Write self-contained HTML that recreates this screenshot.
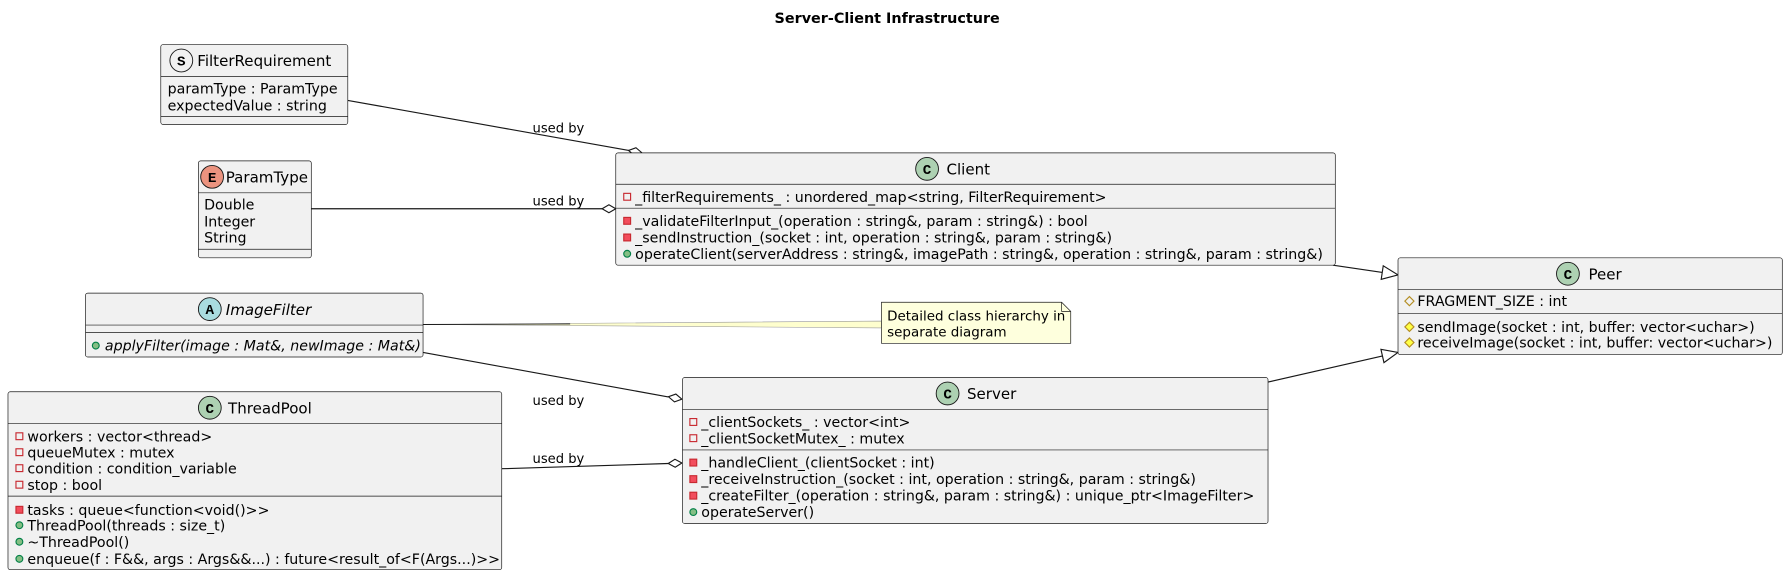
<!DOCTYPE html>
<html><head><meta charset="utf-8"><style>
html,body{margin:0;padding:0;background:#fff;}
svg{display:block;}
text{font-family:"DejaVu Sans","Liberation Sans",sans-serif;font-size:12.45px;fill:#000;}
.t{font-size:13.2px;}
.b{fill:#F1F1F1;stroke:#181818;stroke-width:0.6;}
.d{stroke:#181818;stroke-width:0.6;}
.l{stroke:#181818;stroke-width:1;fill:none;}
.lbl{font-size:11.5px;}
.ic{font-weight:bold;font-size:12.5px;font-family:'Liberation Mono',monospace;}
</style></head><body>
<svg width="1788" height="576" viewBox="0 0 1568 505" xmlns="http://www.w3.org/2000/svg">
<defs>
<g id="pa"><rect x="-3" y="-3" width="6" height="6" fill="none" stroke="#C82930" stroke-width="1"/></g>
<g id="pm"><rect x="-3" y="-3" width="6" height="6" fill="#F24D5C" stroke="#C82930" stroke-width="1"/></g>
<g id="pu"><circle r="3" fill="#84BE84" stroke="#038048" stroke-width="1"/></g>
<g id="ra"><polygon points="0,-4 4,0 0,4 -4,0" fill="none" stroke="#B38D22" stroke-width="1"/></g>
<g id="rm"><polygon points="0,-4 4,0 0,4 -4,0" fill="#FFFF44" stroke="#B38D22" stroke-width="1"/></g>
</defs>
<text x="778" y="20" text-anchor="middle" style="font-weight:bold;font-size:12.6px">Server-Client Infrastructure</text>

<!-- edges -->
<line class="l" x1="305" y1="88" x2="552" y2="132"/>
<g transform="translate(563,134) rotate(10.1)"><polygon points="0,0 -6,-3.5 -12,0 -6,3.5" fill="#fff" stroke="#181818" stroke-width="1"/></g>
<text class="lbl" x="467" y="116">used by</text>
<line class="l" x1="273" y1="183" x2="528" y2="183"/>
<g transform="translate(540,183)"><polygon points="0,0 -6,-3.5 -12,0 -6,3.5" fill="#fff" stroke="#181818" stroke-width="1"/></g>
<text class="lbl" x="467" y="180">used by</text>
<line class="l" x1="371" y1="309" x2="586" y2="348"/>
<g transform="translate(598,350) rotate(10.2)"><polygon points="0,0 -6,-3.5 -12,0 -6,3.5" fill="#fff" stroke="#181818" stroke-width="1"/></g>
<text class="lbl" x="467" y="355">used by</text>
<line class="l" x1="440" y1="411" x2="586" y2="406.4"/>
<g transform="translate(598,406) rotate(-1.8)"><polygon points="0,0 -6,-3.5 -12,0 -6,3.5" fill="#fff" stroke="#181818" stroke-width="1"/></g>
<text class="lbl" x="467" y="406">used by</text>
<line class="l" x1="1169" y1="232.5" x2="1213" y2="239"/>
<g transform="translate(1226,241) rotate(8.5)"><polygon points="0,0 -14,-6 -14,6" fill="#fff" stroke="#181818" stroke-width="1"/></g>
<line class="l" x1="1112" y1="335" x2="1213" y2="312"/>
<g transform="translate(1226,309) rotate(-12.8)"><polygon points="0,0 -14,-6 -14,6" fill="#fff" stroke="#181818" stroke-width="1"/></g>
<polygon points="371,284.5 773,281.5 773,287.5" fill="#FEFECE" stroke="#999" stroke-width="0.5"/>
<line x1="371" y1="284.5" x2="500" y2="284" stroke="#181818" stroke-width="0.8"/>

<!-- FilterRequirement -->
<rect class="b" x="141" y="39" width="164" height="70" rx="2"/>
<line class="d" x1="141" y1="67" x2="305" y2="67"/><line class="d" x1="141" y1="102" x2="305" y2="102"/>
<circle cx="159" cy="53" r="10" fill="#F1F1F1" stroke="#181818" stroke-width="0.8"/>
<text class="ic" x="159" y="57.5" text-anchor="middle">S</text>
<text class="t" x="173" y="58">FilterRequirement</text>
<text x="147" y="82">paramType : ParamType</text>
<text x="147" y="97">expectedValue : string</text>

<!-- ParamType -->
<rect class="b" x="174" y="141" width="99" height="85" rx="2"/>
<line class="d" x1="174" y1="169" x2="273" y2="169"/><line class="d" x1="174" y1="218.5" x2="273" y2="218.5"/>
<circle cx="186" cy="155" r="10" fill="#EB937F" stroke="#181818" stroke-width="0.8"/>
<text class="ic" x="186" y="159.5" text-anchor="middle">E</text>
<text class="t" x="198" y="160">ParamType</text>
<text x="179" y="183.5">Double</text>
<text x="179" y="198.5">Integer</text>
<text x="179" y="212.5">String</text>

<!-- ImageFilter -->
<rect class="b" x="75" y="257" width="296" height="56" rx="2"/>
<line class="d" x1="75" y1="285" x2="371" y2="285"/><line class="d" x1="75" y1="291.5" x2="371" y2="291.5"/>
<circle cx="184" cy="271" r="10" fill="#A9DCDF" stroke="#181818" stroke-width="0.8"/>
<text class="ic" x="184" y="275.5" text-anchor="middle">A</text>
<text class="t" x="198" y="276" font-style="italic">ImageFilter</text>
<use href="#pu" x="84" y="303"/>
<text x="92" y="307.5" font-style="italic">applyFilter(image : Mat&amp;, newImage : Mat&amp;)</text>

<!-- ThreadPool -->
<rect class="b" x="7" y="343.5" width="433" height="156" rx="2"/>
<line class="d" x1="7" y1="371.5" x2="440" y2="371.5"/><line class="d" x1="7" y1="435" x2="440" y2="435"/>
<circle cx="184" cy="357.5" r="10" fill="#ADD1B2" stroke="#181818" stroke-width="0.8"/>
<text class="ic" x="184" y="362" text-anchor="middle">C</text>
<text class="t" x="200" y="362.5">ThreadPool</text>
<use href="#pa" x="17" y="382.5"/><text x="24" y="387">workers : vector&lt;thread&gt;</text>
<use href="#pa" x="17" y="396.5"/><text x="24" y="401">queueMutex : mutex</text>
<use href="#pa" x="17" y="410.5"/><text x="24" y="415">condition : condition_variable</text>
<use href="#pa" x="17" y="425"/><text x="24" y="429.5">stop : bool</text>
<use href="#pm" x="17" y="447"/><text x="24" y="451.5">tasks : queue&lt;function&lt;void()&gt;&gt;</text>
<use href="#pu" x="17" y="460.5"/><text x="24" y="465">ThreadPool(threads : size_t)</text>
<use href="#pu" x="17" y="475"/><text x="24" y="479.5">~ThreadPool()</text>
<use href="#pu" x="17" y="490"/><text x="24" y="494.5">enqueue(f : F&amp;&amp;, args : Args&amp;&amp;...) : future&lt;result_of&lt;F(Args...)&gt;&gt;</text>

<!-- Client -->
<rect class="b" x="540" y="134" width="631" height="98.5" rx="2"/>
<line class="d" x1="540" y1="161.5" x2="1171" y2="161.5"/><line class="d" x1="540" y1="182.5" x2="1171" y2="182.5"/>
<circle cx="813" cy="148" r="10" fill="#ADD1B2" stroke="#181818" stroke-width="0.8"/>
<text class="ic" x="813" y="152.5" text-anchor="middle">C</text>
<text class="t" x="830" y="153">Client</text>
<use href="#pa" x="550" y="172.5"/><text x="557" y="177">_filterRequirements_ : unordered_map&lt;string, FilterRequirement&gt;</text>
<use href="#pm" x="550" y="193.6"/><text x="557" y="198">_validateFilterInput_(operation : string&amp;, param : string&amp;) : bool</text>
<use href="#pm" x="550" y="208.2"/><text x="557" y="212.6">_sendInstruction_(socket : int, operation : string&amp;, param : string&amp;)</text>
<use href="#pu" x="550" y="222.5"/><text x="557" y="227">operateClient(serverAddress : string&amp;, imagePath : string&amp;, operation : string&amp;, param : string&amp;)</text>

<!-- Note -->
<path d="M773,265 L931,265 L939,273 L939,301 L773,301 Z" fill="#FEFFDD" stroke="#181818" stroke-width="0.6"/>
<path d="M931,265 L931,273 L939,273" fill="none" stroke="#181818" stroke-width="0.6"/>
<text x="778" y="281" style="font-size:11.8px">Detailed class hierarchy in</text>
<text x="778" y="295" style="font-size:11.8px">separate diagram</text>

<!-- Server -->
<rect class="b" x="598.5" y="331" width="513.5" height="128" rx="2"/>
<line class="d" x1="598.5" y1="359" x2="1112" y2="359"/><line class="d" x1="598.5" y1="394.5" x2="1112" y2="394.5"/>
<circle cx="831" cy="345" r="10" fill="#ADD1B2" stroke="#181818" stroke-width="0.8"/>
<text class="ic" x="831" y="349.5" text-anchor="middle">C</text>
<text class="t" x="848" y="350">Server</text>
<use href="#pa" x="608" y="370"/><text x="615" y="374.5">_clientSockets_ : vector&lt;int&gt;</text>
<use href="#pa" x="608" y="384.2"/><text x="615" y="388.7">_clientSocketMutex_ : mutex</text>
<use href="#pm" x="608" y="405.6"/><text x="615" y="410">_handleClient_(clientSocket : int)</text>
<use href="#pm" x="608" y="420.1"/><text x="615" y="424.5">_receiveInstruction_(socket : int, operation : string&amp;, param : string&amp;)</text>
<use href="#pm" x="608" y="434.6"/><text x="615" y="439">_createFilter_(operation : string&amp;, param : string&amp;) : unique_ptr&lt;ImageFilter&gt;</text>
<use href="#pu" x="608" y="449"/><text x="615" y="453.5">operateServer()</text>

<!-- Peer -->
<rect class="b" x="1226" y="226" width="337" height="85" rx="2"/>
<line class="d" x1="1226" y1="254" x2="1563" y2="254"/><line class="d" x1="1226" y1="275" x2="1563" y2="275"/>
<circle cx="1375" cy="240" r="10" fill="#ADD1B2" stroke="#181818" stroke-width="0.8"/>
<text class="ic" x="1375" y="244.5" text-anchor="middle">C</text>
<text class="t" x="1393" y="245">Peer</text>
<use href="#ra" x="1236" y="264"/><text x="1243" y="268.5">FRAGMENT_SIZE : int</text>
<use href="#rm" x="1236" y="286.6"/><text x="1243" y="291">sendImage(socket : int, buffer: vector&lt;uchar&gt;)</text>
<use href="#rm" x="1236" y="300.3"/><text x="1243" y="304.7">receiveImage(socket : int, buffer: vector&lt;uchar&gt;)</text>
</svg>
</body></html>
